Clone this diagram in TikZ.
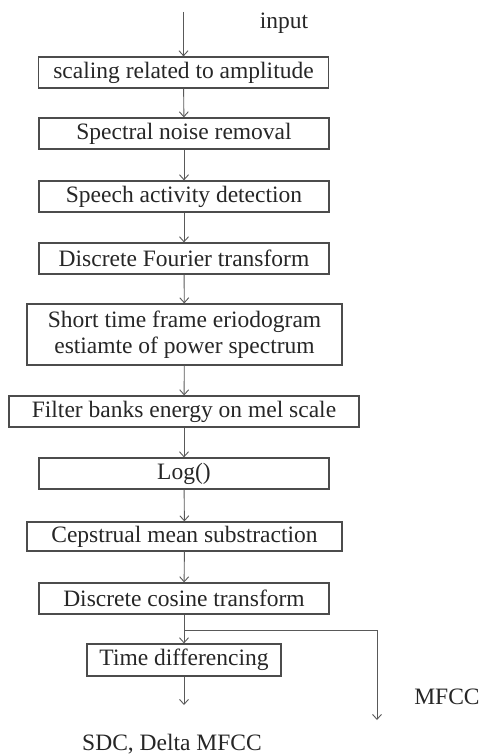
\documentclass[tikz,border=0pt]{standalone}
\usepackage{fontspec}
\setmainfont{Liberation Serif}
\usetikzlibrary{arrows.meta}
\begin{document}
\begin{tikzpicture}[x=1pt,y=1pt,
  box/.style={draw=black!70,line width=1.2pt,inner sep=0pt,align=center,
    font=\fontsize{23.5}{26}\selectfont,text=black!85},
  lbl/.style={font=\fontsize{23.5}{26}\selectfont,text=black!85,inner sep=0pt},
  arr/.style={draw=black!65,line width=0.9pt,-{Straight Barb[length=5pt,width=9pt]}},
  ln/.style={draw=black!65,line width=0.9pt}]
\useasboundingbox (0,0) rectangle (482,-754);
\node[box,minimum width=290,minimum height=31] (b1) at (183.5,-72.5) {scaling related to amplitude};
\node[box,minimum width=290,minimum height=31] (b2) at (184,-133.5) {Spectral noise removal};
\node[box,minimum width=290,minimum height=31] (b3) at (184,-196.5) {Speech activity detection};
\node[box,minimum width=290,minimum height=31] (b4) at (184,-258.5) {Discrete Fourier transform};
\node[box,minimum width=315,minimum height=61] (b5) at (184.5,-334.5) {Short time frame eriodogram\\estiamte of power spectrum};
\node[box,minimum width=350,minimum height=31] (b6) at (184,-411.5) {Filter banks energy on mel scale};
\node[box,minimum width=290,minimum height=31] (b7) at (184,-473.5) {Log()};
\node[box,minimum width=315,minimum height=29] (b8) at (184.5,-536.5) {Cepstrual mean substraction};
\node[box,minimum width=290,minimum height=31] (b9) at (184,-598.5) {Discrete cosine transform};
\node[box,minimum width=194,minimum height=32] (b10) at (184,-660) {Time differencing};
\coordinate (in) at (183.5,-12);
\node[lbl] (input) at (284,-23) {input};
\coordinate (br) at (184,-630);
\coordinate (brr) at (377,-630);
\coordinate (mend) at (377,-720);
\coordinate (send) at (184,-705);
\node[lbl] (mfcc) at (447,-697) {MFCC};
\node[lbl] (sdc) at (172,-744) {SDC, Delta MFCC};
\draw[arr] (in) -- (b1.north);
\draw[arr] (b1) -- (b2);
\draw[arr] (b2) -- (b3);
\draw[arr] (b3) -- (b4);
\draw[arr] (b4) -- (b5);
\draw[arr] (b5) -- (b6);
\draw[arr] (b6) -- (b7);
\draw[arr] (b7) -- (b8);
\draw[arr] (b8) -- (b9);
\draw[arr] (b9) -- (b10);
\draw[arr] (br) -- (brr) -- (mend);
\draw[arr] (b10) -- (send);
\end{tikzpicture}
\end{document}
